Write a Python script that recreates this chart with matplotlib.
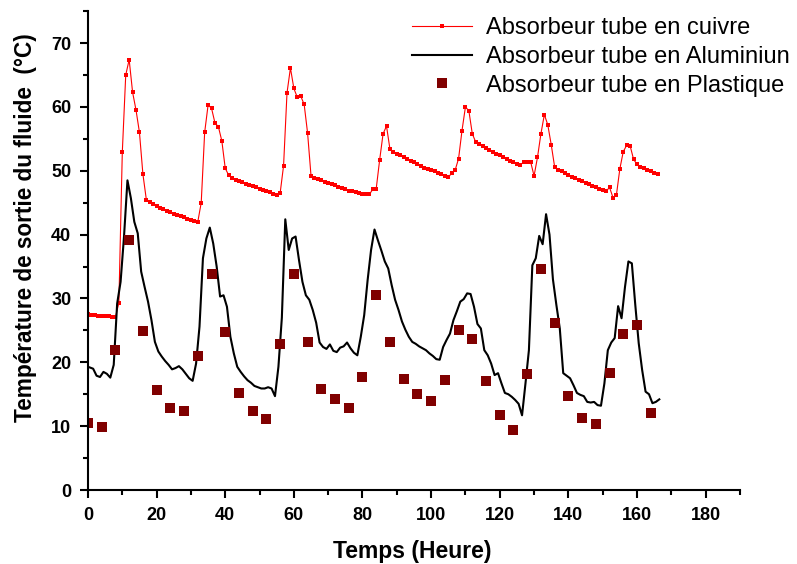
#!/usr/bin/env python3
"""Outlet fluid temperature for three absorber tube materials over one week."""

import matplotlib
matplotlib.use("Agg")
import matplotlib.pyplot as plt
import numpy as np
from matplotlib.ticker import MultipleLocator


# Copper absorber, hourly readings from t = 0 h
CUIVRE = [
    27.5, 27.4, 27.4, 27.3, 27.3, 27.2, 27.2, 27.1, 27.1, 29.3,
    52.9, 65.0, 67.4, 62.3, 59.5, 56.0, 49.5, 45.5, 45.1, 44.8,
    44.5, 44.2, 44.0, 43.7, 43.5, 43.3, 43.1, 42.9, 42.7, 42.5,
    42.3, 42.1, 42.0, 45.0, 56.0, 60.3, 59.8, 57.5, 56.9, 54.7,
    50.4, 49.3, 48.9, 48.6, 48.4, 48.2, 48.0, 47.8, 47.6, 47.4,
    47.2, 47.0, 46.8, 46.6, 46.4, 46.2, 46.5, 50.8, 62.2, 66.1,
    62.9, 61.5, 61.7, 60.4, 55.9, 49.2, 48.9, 48.7, 48.5, 48.3,
    48.1, 47.9, 47.7, 47.5, 47.3, 47.1, 46.9, 46.8, 46.6, 46.5,
    46.4, 46.3, 46.3, 47.1, 47.2, 51.7, 55.8, 57.0, 53.4, 53.0,
    52.7, 52.4, 52.1, 51.8, 51.5, 51.3, 51.0, 50.8, 50.5, 50.3,
    50.1, 49.9, 49.7, 49.5, 49.2, 49.0, 49.6, 50.1, 51.9, 56.3,
    60.0, 59.4, 55.8, 54.5, 54.2, 53.9, 53.6, 53.3, 53.0, 52.7,
    52.4, 52.1, 51.8, 51.6, 51.3, 51.1, 50.9, 51.4, 51.4, 51.4,
    49.2, 52.1, 55.8, 58.8, 57.2, 54.1, 50.6, 50.1, 49.9, 49.6,
    49.3, 49.1, 48.8, 48.6, 48.4, 48.1, 47.9, 47.6, 47.4, 47.2,
    47.0, 46.8, 47.4, 45.8, 46.2, 50.3, 53.0, 54.0, 53.9, 51.8,
    51.0, 50.6, 50.4, 50.1, 49.9, 49.7, 49.5,
]

# Aluminium absorber, hourly readings from t = 0.5 h
ALUMINIUM = [
    19.2, 19.0, 17.9, 17.7, 18.5, 18.2, 17.6, 19.6, 29.2, 32.6,
    39.7, 48.5, 45.7, 42.0, 40.2, 34.2, 31.8, 29.5, 26.6, 23.2,
    21.7, 20.9, 20.2, 19.6, 18.9, 19.1, 19.4, 18.9, 18.2, 17.5,
    17.1, 19.8, 25.6, 36.3, 39.4, 41.1, 38.6, 35.0, 30.3, 30.5,
    28.7, 24.0, 21.4, 19.3, 18.5, 17.8, 17.2, 16.8, 16.3, 16.1,
    15.9, 15.9, 16.1, 15.9, 14.7, 19.3, 27.0, 42.4, 37.6, 39.4,
    39.7, 36.0, 32.6, 30.5, 29.8, 28.2, 26.2, 23.1, 22.4, 22.1,
    22.8, 21.8, 21.6, 22.3, 22.5, 23.1, 22.2, 21.5, 21.1, 24.0,
    27.4, 32.9, 37.6, 40.8, 39.1, 37.5, 35.8, 34.7, 32.1, 29.8,
    28.2, 26.4, 25.1, 24.0, 23.2, 22.9, 22.5, 22.2, 21.9, 21.4,
    21.0, 20.5, 20.4, 22.4, 23.5, 24.5, 26.6, 28.0, 29.5, 29.9,
    30.8, 30.7, 28.7, 26.0, 25.3, 21.9, 21.1, 19.8, 18.0, 18.3,
    16.7, 15.2, 15.0, 14.6, 14.1, 13.5, 11.7, 16.7, 21.9, 35.2,
    36.3, 39.8, 38.5, 43.2, 40.0, 33.0, 29.0, 25.3, 18.3, 17.9,
    17.5, 16.4, 15.2, 14.9, 14.7, 13.8, 13.7, 13.8, 13.3, 13.2,
    16.7, 21.9, 23.1, 23.8, 28.8, 26.9, 31.8, 35.8, 35.5, 29.0,
    23.0, 18.8, 15.4, 15.0, 13.6, 13.8, 14.2,
]

# Plastic absorber, one reading every 4 h
PLASTIQUE_T = [
    0, 4, 8, 12, 16, 20, 24, 28, 32, 36, 40, 44, 48, 52,
    56, 60, 64, 68, 72, 76, 80, 84, 88, 92, 96, 100, 104, 108,
    112, 116, 120, 124, 128, 132, 136, 140, 144, 148, 152, 156, 160, 164,
]
PLASTIQUE = [
    10.5, 9.9, 22.0, 39.2, 24.9, 15.6, 12.8, 12.3, 21.0, 33.9, 24.8, 15.2, 12.4, 11.1,
    22.9, 33.9, 23.2, 15.8, 14.2, 12.8, 17.7, 30.5, 23.2, 17.4, 15.1, 13.9, 17.2, 25.0,
    23.7, 17.0, 11.7, 9.4, 18.2, 34.6, 26.2, 14.7, 11.2, 10.4, 18.3, 24.5, 25.8, 12.1,
]

LABELS = [
    "Absorbeur tube en cuivre",
    "Absorbeur tube en Aluminiun",
    "Absorbeur tube en Plastique",
]


def main() -> None:
    plt.rcParams["font.family"] = ["Liberation Sans", "DejaVu Sans"]
    fig = plt.figure(figsize=(7.97, 5.64), dpi=100)
    ax = fig.add_axes([0.1104, 0.1312, 0.818, 0.849])

    t_cu = np.arange(len(CUIVRE))
    t_al = np.arange(len(ALUMINIUM)) + 0.5

    ax.plot(t_cu, CUIVRE, color="#ff0000", lw=0.8, marker="s", ms=3.2,
            mew=0, label=LABELS[0])
    ax.plot(t_al, ALUMINIUM, color="black", lw=1.5, label=LABELS[1])
    ax.plot(PLASTIQUE_T, PLASTIQUE, ls="none", marker="s", ms=7,
            color="#800000", mew=0, label=LABELS[2])

    ax.set_xlim(0, 190)
    ax.set_ylim(0, 75)
    ax.xaxis.set_major_locator(MultipleLocator(20))
    ax.xaxis.set_minor_locator(MultipleLocator(10))
    ax.yaxis.set_major_locator(MultipleLocator(10))
    ax.yaxis.set_minor_locator(MultipleLocator(5))
    ax.set_xticks(np.arange(0, 181, 20))

    ax.spines[["top", "right"]].set_visible(False)
    for side in ("left", "bottom"):
        ax.spines[side].set_linewidth(1.5)
    ax.tick_params(which="major", direction="out", length=6, width=1.5,
                   labelsize=13, pad=6)
    ax.tick_params(which="minor", direction="out", length=3.5, width=1.5)
    for lab in ax.get_xticklabels() + ax.get_yticklabels():
        lab.set_fontweight("bold")

    ax.set_xlabel("Temps (Heure)", fontsize=16.5, fontweight="bold")
    ax.xaxis.set_label_coords(0.497, -0.104)
    ax.set_ylabel("Température de sortie du fluide  (°C)", fontsize=16.3,
                  fontweight="bold")
    ax.yaxis.set_label_coords(-0.078, 0.547)

    fig.legend(loc="upper left", bbox_to_anchor=(412 / 797, 1 - 17 / 564),
               frameon=False, fontsize=17.0, handlelength=2.55,
               handletextpad=0.6, labelspacing=0.29, borderpad=0,
               borderaxespad=0, numpoints=1)

    fig.savefig("out.png", dpi=100, facecolor="white")
    plt.close(fig)


if __name__ == "__main__":
    main()
